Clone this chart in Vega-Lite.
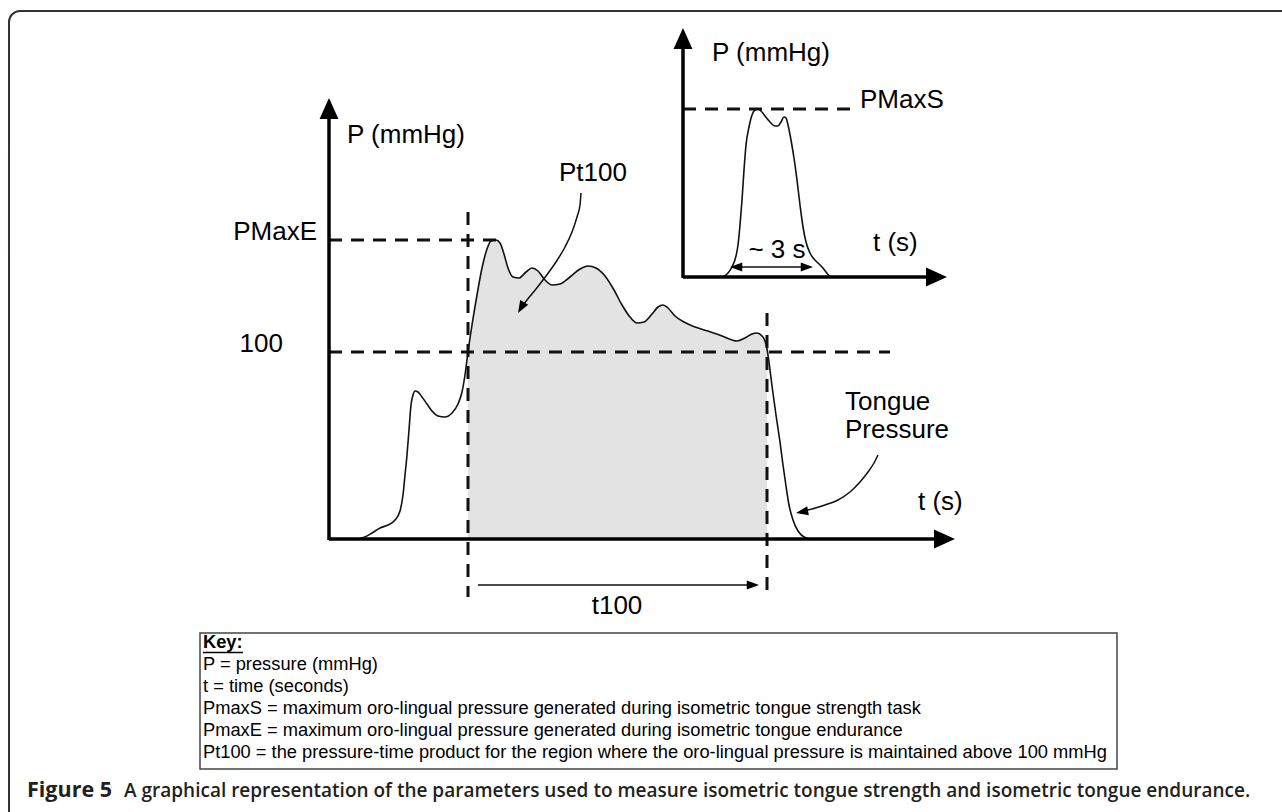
{
  "$schema": "https://vega.github.io/schema/vega-lite/v6.json",
  "width": 1282,
  "height": 812,
  "autosize": "none",
  "padding": 0,
  "background": "white",
  "config": {"view": {"stroke": null}},
  "datasets": {
    "frame": [{"x": 9, "y": 11, "x2": 1330, "y2": 850}],
    "curve": [
      {"x": 357, "y": 539}, {"x": 365, "y": 537}, {"x": 372, "y": 533}, {"x": 380, "y": 528}, {"x": 388, "y": 525},
      {"x": 395, "y": 520}, {"x": 400, "y": 511}, {"x": 403, "y": 495}, {"x": 405, "y": 475}, {"x": 407, "y": 455},
      {"x": 409, "y": 430}, {"x": 411, "y": 405}, {"x": 413, "y": 395}, {"x": 415, "y": 391}, {"x": 418, "y": 392},
      {"x": 422, "y": 397}, {"x": 427, "y": 404}, {"x": 432, "y": 411}, {"x": 438, "y": 416}, {"x": 445, "y": 417},
      {"x": 452, "y": 413}, {"x": 458, "y": 404}, {"x": 462, "y": 392}, {"x": 465, "y": 375}, {"x": 468, "y": 352},
      {"x": 472, "y": 325}, {"x": 477, "y": 295}, {"x": 482, "y": 268}, {"x": 487, "y": 249}, {"x": 491, "y": 241},
      {"x": 496, "y": 240}, {"x": 500, "y": 243}, {"x": 504, "y": 254}, {"x": 508, "y": 268}, {"x": 513, "y": 277},
      {"x": 519, "y": 278}, {"x": 526, "y": 272}, {"x": 532, "y": 268}, {"x": 538, "y": 271}, {"x": 545, "y": 280},
      {"x": 552, "y": 285}, {"x": 560, "y": 284}, {"x": 570, "y": 277}, {"x": 580, "y": 269}, {"x": 588, "y": 266},
      {"x": 596, "y": 268}, {"x": 605, "y": 276}, {"x": 614, "y": 290}, {"x": 622, "y": 305}, {"x": 630, "y": 317},
      {"x": 637, "y": 323}, {"x": 644, "y": 322}, {"x": 652, "y": 314}, {"x": 658, "y": 307}, {"x": 663, "y": 305},
      {"x": 668, "y": 308}, {"x": 675, "y": 316}, {"x": 684, "y": 322}, {"x": 695, "y": 327}, {"x": 708, "y": 331},
      {"x": 722, "y": 336}, {"x": 737, "y": 341}, {"x": 745, "y": 338}, {"x": 752, "y": 334}, {"x": 757, "y": 333},
      {"x": 762, "y": 336}, {"x": 765, "y": 341}, {"x": 767, "y": 349}, {"x": 769, "y": 362}, {"x": 772, "y": 386},
      {"x": 776, "y": 415}, {"x": 780, "y": 442}, {"x": 783, "y": 465}, {"x": 786, "y": 486}, {"x": 789, "y": 505},
      {"x": 793, "y": 520}, {"x": 798, "y": 531}, {"x": 804, "y": 537}, {"x": 810, "y": 539}
    ],
    "inset": [
      {"x": 723, "y": 277}, {"x": 728, "y": 273}, {"x": 732, "y": 267}, {"x": 736, "y": 256}, {"x": 738, "y": 245},
      {"x": 740, "y": 225}, {"x": 742, "y": 200}, {"x": 744, "y": 170}, {"x": 746, "y": 145}, {"x": 749, "y": 127},
      {"x": 752, "y": 115}, {"x": 755, "y": 110}, {"x": 758, "y": 109}, {"x": 761, "y": 111}, {"x": 765, "y": 116},
      {"x": 770, "y": 122}, {"x": 775, "y": 126}, {"x": 778, "y": 126}, {"x": 781, "y": 122}, {"x": 784, "y": 117},
      {"x": 786, "y": 118}, {"x": 788, "y": 125}, {"x": 791, "y": 140}, {"x": 794, "y": 158}, {"x": 797, "y": 180},
      {"x": 800, "y": 205}, {"x": 803, "y": 227}, {"x": 806, "y": 242}, {"x": 810, "y": 253}, {"x": 814, "y": 259},
      {"x": 818, "y": 263}, {"x": 822, "y": 267}, {"x": 826, "y": 272}, {"x": 830, "y": 277}
    ],
    "axes": [
      {"x": 329, "y": 540, "x2": 329, "y2": 112},
      {"x": 329, "y": 539, "x2": 940, "y2": 539},
      {"x": 683, "y": 278, "x2": 683, "y2": 44},
      {"x": 683, "y": 277, "x2": 932, "y2": 277}
    ],
    "dashes": [
      {"x": 329, "y": 240, "x2": 497, "y2": 240},
      {"x": 329, "y": 352, "x2": 890, "y2": 352},
      {"x": 468, "y": 212, "x2": 468, "y2": 597},
      {"x": 767, "y": 313, "x2": 767, "y2": 597},
      {"x": 683, "y": 109, "x2": 855, "y2": 109}
    ],
    "pointers": [
      {"id": "pt", "x": 581, "y": 193}, {"id": "pt", "x": 580, "y": 205}, {"id": "pt", "x": 577, "y": 217},
      {"id": "pt", "x": 572, "y": 232}, {"id": "pt", "x": 565, "y": 247}, {"id": "pt", "x": 556, "y": 262},
      {"id": "pt", "x": 546, "y": 276}, {"id": "pt", "x": 536, "y": 289}, {"id": "pt", "x": 527, "y": 300},
      {"id": "pt", "x": 523, "y": 305},
      {"id": "tongue", "x": 878, "y": 455}, {"id": "tongue", "x": 874, "y": 463}, {"id": "tongue", "x": 868, "y": 472},
      {"id": "tongue", "x": 860, "y": 482}, {"id": "tongue", "x": 850, "y": 492}, {"id": "tongue", "x": 838, "y": 500},
      {"id": "tongue", "x": 825, "y": 505}, {"id": "tongue", "x": 812, "y": 509}, {"id": "tongue", "x": 804, "y": 511},
      {"id": "t100", "x": 478, "y": 585}, {"id": "t100", "x": 753, "y": 585},
      {"id": "s3", "x": 735, "y": 267}, {"id": "s3", "x": 808, "y": 267}
    ],
    "bigHeads": [
      {"x": 329, "y": 108.5, "angle": 0},
      {"x": 683, "y": 38.5, "angle": 0},
      {"x": 944.5, "y": 539, "angle": 90},
      {"x": 936.5, "y": 277, "angle": 90}
    ],
    "smallHeads": [
      {"x": 752.9, "y": 585, "angle": 90},
      {"x": 736.1, "y": 267, "angle": 270},
      {"x": 806.9, "y": 267, "angle": 90},
      {"x": 521.1, "y": 307.7, "angle": 210},
      {"x": 802.0, "y": 511.9, "angle": 260}
    ],
    "labelsLeft": [
      {"x": 347, "y": 135, "label": "P (mmHg)"},
      {"x": 712, "y": 53, "label": "P (mmHg)"},
      {"x": 860, "y": 100, "label": "PMaxS"},
      {"x": 873, "y": 243, "label": "t (s)"},
      {"x": 918, "y": 502, "label": "t (s)"},
      {"x": 845, "y": 402, "label": "Tongue"},
      {"x": 845, "y": 430, "label": "Pressure"}
    ],
    "labelsRight": [
      {"x": 317, "y": 232, "label": "PMaxE"},
      {"x": 283, "y": 344, "label": "100"}
    ],
    "labelsCenter": [
      {"x": 593, "y": 173, "label": "Pt100"},
      {"x": 777, "y": 250, "label": "~ 3 s"},
      {"x": 617, "y": 606, "label": "t100"}
    ],
    "keyBox": [{"x": 200, "y": 633, "x2": 1117, "y2": 769}],
    "keyUnderline": [{"x": 203, "y": 652.5, "x2": 243, "y2": 652.5}],
    "keyTitle": [{"x": 203, "y": 643, "label": "Key:"}],
    "keyLines": [
      {"x": 203, "y": 665, "label": "P = pressure (mmHg)"},
      {"x": 203, "y": 687, "label": "t = time (seconds)"},
      {"x": 203, "y": 709, "label": "PmaxS = maximum oro-lingual pressure generated during isometric tongue strength task"},
      {"x": 203, "y": 731, "label": "PmaxE = maximum oro-lingual pressure generated during isometric tongue endurance"},
      {"x": 203, "y": 753, "label": "Pt100 = the pressure-time product for the region where the oro-lingual pressure is maintained above 100 mmHg"}
    ],
    "captionBold": [{"x": 27, "y": 791, "label": "Figure 5"}],
    "captionRest": [{"x": 124, "y": 791, "label": "A graphical representation of the parameters used to measure isometric tongue strength and isometric tongue endurance."}]
  },
  "encoding": {
    "x": {"field": "x", "type": "quantitative", "scale": {"domain": [0, 1282], "nice": false, "zero": false}, "axis": null},
    "y": {"field": "y", "type": "quantitative", "scale": {"domain": [0, 812], "reverse": true, "nice": false, "zero": false}, "axis": null}
  },
  "layer": [
    {
      "data": {"name": "frame"},
      "mark": {"type": "rect", "fill": "transparent", "stroke": "#333333", "strokeWidth": 2, "cornerRadius": 11, "clip": true},
      "encoding": {"x2": {"field": "x2"}, "y2": {"field": "y2"}}
    },
    {
      "data": {"name": "curve"},
      "transform": [{"filter": "datum.x >= 468 && datum.x <= 767"}],
      "mark": {"type": "area", "color": "#e3e3e3", "interpolate": "monotone", "opacity": 1},
      "encoding": {"y2": {"datum": 539}}
    },
    {
      "data": {"name": "dashes"},
      "mark": {"type": "rule", "color": "#111111", "strokeWidth": 3, "strokeDash": [13, 9]},
      "encoding": {"x2": {"field": "x2"}, "y2": {"field": "y2"}}
    },
    {
      "data": {"name": "curve"},
      "mark": {"type": "line", "color": "#111111", "strokeWidth": 1.6, "interpolate": "monotone"}
    },
    {
      "data": {"name": "inset"},
      "mark": {"type": "line", "color": "#111111", "strokeWidth": 1.6, "interpolate": "monotone"}
    },
    {
      "data": {"name": "axes"},
      "mark": {"type": "rule", "color": "#000000", "strokeWidth": 3.5},
      "encoding": {"x2": {"field": "x2"}, "y2": {"field": "y2"}}
    },
    {
      "data": {"name": "pointers"},
      "mark": {"type": "line", "color": "#111111", "strokeWidth": 1.5, "interpolate": "monotone"},
      "encoding": {"detail": {"field": "id"}}
    },
    {
      "data": {"name": "bigHeads"},
      "mark": {"type": "point", "shape": "M0,-1L0.9,1L-0.9,1Z", "filled": true, "color": "#000000", "opacity": 1, "size": 441, "strokeWidth": 0},
      "encoding": {"angle": {"field": "angle", "type": "quantitative", "scale": null}}
    },
    {
      "data": {"name": "smallHeads"},
      "mark": {"type": "point", "shape": "M0,-1L0.75,1L-0.75,1Z", "filled": true, "color": "#000000", "opacity": 1, "size": 150, "strokeWidth": 0},
      "encoding": {"angle": {"field": "angle", "type": "quantitative", "scale": null}}
    },
    {
      "data": {"name": "labelsLeft"},
      "mark": {"type": "text", "font": "Liberation Sans", "fontSize": 26, "align": "left", "baseline": "middle", "color": "#000000"},
      "encoding": {"text": {"field": "label"}}
    },
    {
      "data": {"name": "labelsRight"},
      "mark": {"type": "text", "font": "Liberation Sans", "fontSize": 26, "align": "right", "baseline": "middle", "color": "#000000"},
      "encoding": {"text": {"field": "label"}}
    },
    {
      "data": {"name": "labelsCenter"},
      "mark": {"type": "text", "font": "Liberation Sans", "fontSize": 26, "align": "center", "baseline": "middle", "color": "#000000"},
      "encoding": {"text": {"field": "label"}}
    },
    {
      "data": {"name": "keyBox"},
      "mark": {"type": "rect", "fill": "white", "stroke": "#444444", "strokeWidth": 1.5},
      "encoding": {"x2": {"field": "x2"}, "y2": {"field": "y2"}}
    },
    {
      "data": {"name": "keyUnderline"},
      "mark": {"type": "rule", "color": "#000000", "strokeWidth": 1.3},
      "encoding": {"x2": {"field": "x2"}, "y2": {"field": "y2"}}
    },
    {
      "data": {"name": "keyTitle"},
      "mark": {"type": "text", "font": "Liberation Sans", "fontWeight": "bold", "fontSize": 18.3, "align": "left", "baseline": "middle", "color": "#000000"},
      "encoding": {"text": {"field": "label"}}
    },
    {
      "data": {"name": "keyLines"},
      "mark": {"type": "text", "font": "Liberation Sans", "fontSize": 18.3, "align": "left", "baseline": "middle", "color": "#000000"},
      "encoding": {"text": {"field": "label"}}
    },
    {
      "data": {"name": "captionBold"},
      "mark": {"type": "text", "font": "Open Sans", "fontWeight": "bold", "fontSize": 21.5, "align": "left", "baseline": "middle", "color": "#231f20"},
      "encoding": {"text": {"field": "label"}}
    },
    {
      "data": {"name": "captionRest"},
      "mark": {"type": "text", "font": "Open Sans", "fontWeight": 600, "fontSize": 19, "align": "left", "baseline": "middle", "color": "#231f20"},
      "encoding": {"text": {"field": "label"}}
    }
  ]
}
